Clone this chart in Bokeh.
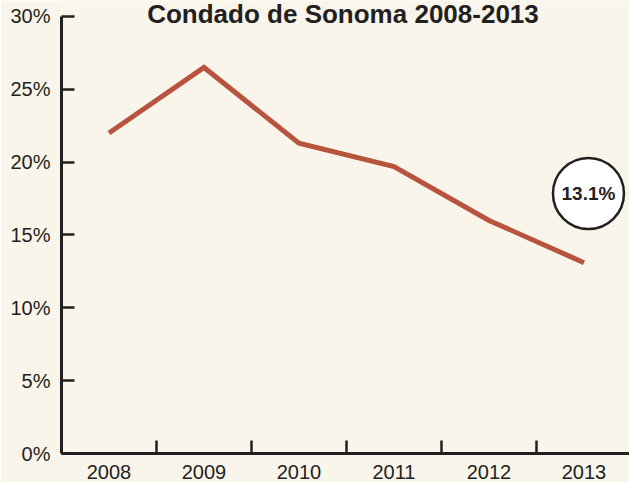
from bokeh.plotting import figure
from bokeh.models import Range1d, FixedTicker, ColumnDataSource
from bokeh.core.properties import value
from bokeh.embed import file_html
from bokeh.resources import INLINE

# ---- data ----
years = ["2008", "2009", "2010", "2011", "2012", "2013"]
rates = [22.0, 26.5, 21.3, 19.7, 16.0, 13.1]
y_ticks = [0, 5, 10, 15, 20, 25, 30]
y_tick_labels = ["0%", "5%", "10%", "15%", "20%", "25%", "30%"]
title_text = "Condado de Sonoma 2008-2013"
callout_text = "13.1%"

BG = "#f9f5ea"
INK = "#231f20"
LINE = "#b8533e"
FONT = "Liberation Sans"

x_pos = [i + 0.5 for i in range(len(years))]
boundaries = [i + 1 for i in range(len(years) - 1)]

p = figure(width=629, height=482, output_backend="svg", toolbar_location=None,
           x_range=Range1d(0, 5.979), y_range=Range1d(0, 31.098),
           min_border_left=61, min_border_right=0, min_border_top=0,
           min_border_bottom=29)
p.background_fill_color = BG
p.border_fill_color = BG
p.outline_line_color = None
p.xgrid.grid_line_color = None
p.ygrid.grid_line_color = None

# data line
src = ColumnDataSource(dict(x=x_pos, y=rates))
p.line("x", "y", source=src, line_color=LINE, line_width=5, line_join="miter")

# x axis: labels centred in categories, tick marks at boundaries
xa = p.xaxis[0]
xa.ticker = FixedTicker(ticks=x_pos, minor_ticks=boundaries)
xa.major_label_overrides = {x: y for x, y in zip(x_pos, years)}
xa.major_tick_line_color = None
xa.major_tick_in = 0
xa.major_tick_out = 0
xa.minor_tick_in = 13
xa.minor_tick_out = 0
xa.minor_tick_line_color = INK
xa.minor_tick_line_width = 2.5
xa.axis_line_color = INK
xa.axis_line_width = 3
xa.major_label_standoff = 11
xa.major_label_text_font = FONT
xa.major_label_text_font_size = "20px"
xa.major_label_text_color = INK

# y axis
ya = p.yaxis[0]
ya.ticker = FixedTicker(ticks=y_ticks, minor_ticks=[])
ya.bounds = (0, 30)
ya.major_label_overrides = {t: l for t, l in zip(y_ticks, y_tick_labels)}
ya.major_tick_in = 13
ya.major_tick_out = 0
ya.major_tick_line_color = INK
ya.major_tick_line_width = 2.5
ya.axis_line_color = INK
ya.axis_line_width = 3
ya.major_label_standoff = 11
ya.major_label_text_font = FONT
ya.major_label_text_font_size = "20px"
ya.major_label_text_color = INK

# title inside the frame
p.text([2.963], [30.14], text=[title_text], text_align="center", text_baseline="middle",
       text_font=value(FONT), text_font_size="26px", text_font_style="bold",
       text_color=INK)

# callout circle with last value
cx, cy = 5.547, 17.85
p.scatter([cx], [cy], marker="circle", size=71, fill_color="white",
          line_color=INK, line_width=2.5)
p.text([cx], [cy], text=[callout_text], text_align="center", text_baseline="middle",
       text_font=value(FONT), text_font_size="19px", text_font_style="bold",
       text_color=INK)

open("out.html", "w").write(file_html(p, INLINE))
